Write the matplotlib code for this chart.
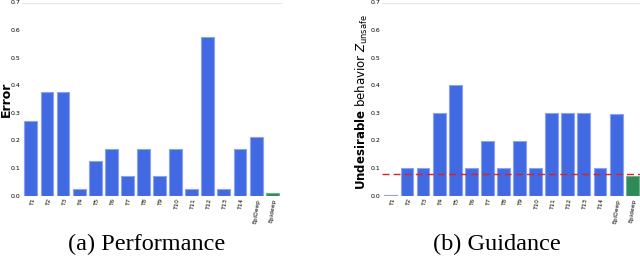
import matplotlib
matplotlib.use("Agg")
import matplotlib.pyplot as plt
import numpy as np

labels = ["T1", "T2", "T3", "T4", "T5", "T6", "T7", "T8", "T9", "T10",
          "T11", "T12", "T13", "T14", "EpiDeep", "Epideep"]
error_vals = [0.27, 0.375, 0.375, 0.025, 0.125, 0.17, 0.07, 0.17, 0.07, 0.17,
              0.025, 0.575, 0.025, 0.17, 0.212, 0.01]
guid_vals = [0.003, 0.10, 0.10, 0.30, 0.40, 0.10, 0.20, 0.10, 0.20, 0.10,
             0.30, 0.30, 0.30, 0.10, 0.295, 0.072]
threshold = 0.08

BLUE = "#4169E1"
GREEN = "#2E8B57"
colors = [BLUE] * 15 + [GREEN]
edges = ["#8aa2f0"] * 15 + ["#6fb38d"]

fig = plt.figure(figsize=(6.4, 2.58), dpi=100)
ax1 = fig.add_axes([22/640, 1-195.7/258, 259/640, 193.2/258])
ax2 = fig.add_axes([382/640, 1-195.7/258, 259/640, 193.2/258])

x = np.arange(len(labels))
for ax, vals in [(ax1, error_vals), (ax2, guid_vals)]:
    ax.bar(x, vals, width=0.8, color=colors, edgecolor=edges, linewidth=0.8)
    ax.set_xlim(-0.55, 15.55)
    ax.set_ylim(0, 0.7)
    ax.set_yticks(np.arange(0, 0.71, 0.1))
    ax.set_yticklabels([f"{v:.1f}" for v in np.arange(0, 0.71, 0.1)], fontsize=4.5)
    ax.set_xticks(x)
    ax.set_xticklabels(labels, fontsize=4.2, rotation=82, ha="right",
                       rotation_mode="anchor")
    ax.tick_params(axis="x", length=0, pad=2)
    ax.tick_params(axis="y", length=0, pad=1)
    for s in ["left", "right", "bottom"]:
        ax.spines[s].set_visible(False)
    ax.spines["top"].set_color("#e6e6e6")
    ax.spines["top"].set_linewidth(0.8)

ax2.axhline(threshold, color="#e02020", linestyle=(0, (5, 3)), linewidth=1.0)

ax1.set_ylabel("Error", fontsize=9, fontweight="bold")
ax1.yaxis.set_label_coords((12.5 - 22) / 259, 0.5)
ax2.set_ylabel(r"$\bf{Undesirable}$ behavior $Z_{\mathrm{unsafe}}$", fontsize=8.5)
ax2.yaxis.set_label_coords((370.5 - 382) / 259, 0.485)

fig.text(147/640, 1-244/258, "(a) Performance", fontsize=17.5, family="Liberation Serif",
         ha="center", va="center")
fig.text(497/640, 1-244/258, "(b) Guidance", fontsize=17.5, family="Liberation Serif",
         ha="center", va="center")

fig.savefig("out.png", dpi=100)
